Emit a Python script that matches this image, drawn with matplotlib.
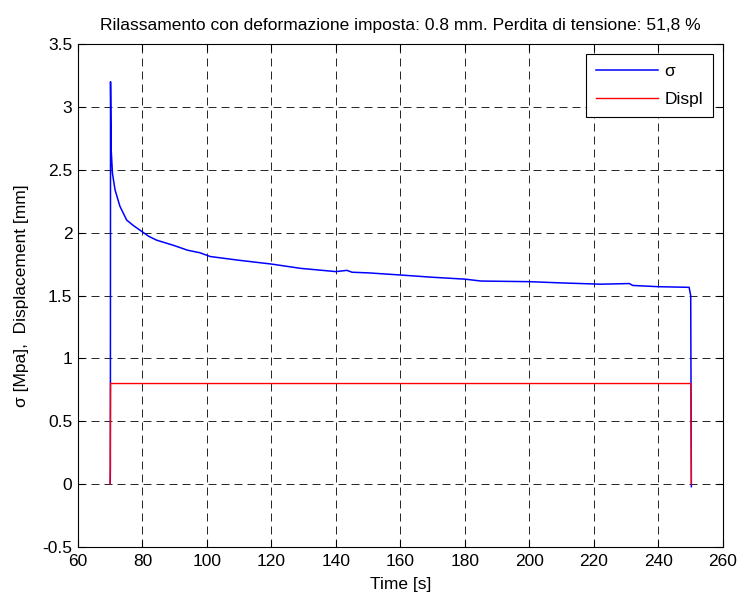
"""Relaxation test: stress and imposed displacement vs time."""

import matplotlib

matplotlib.use("Agg")
import matplotlib.pyplot as plt

# stress curve (time [s], sigma [MPa])
sigma_t = [70.0, 70.05, 70.1, 70.3, 70.7, 71.5, 73.0, 75.1, 77.0, 79.2, 82.0,
           84.4, 89.5, 94.0, 97.8, 101.0, 110.0, 120.0, 129.0, 140.0, 143.4,
           145.0, 150.0, 160.0, 170.0, 180.0, 185.0, 200.0, 210.0, 222.0,
           231.0, 232.0, 240.0, 249.5, 250.0, 250.2]
sigma_v = [0.0, 0.13, 3.2, 2.66, 2.47, 2.34, 2.21, 2.1, 2.06, 2.02, 1.97,
           1.94, 1.9, 1.86, 1.84, 1.81, 1.78, 1.75, 1.716, 1.69, 1.70,
           1.685, 1.68, 1.663, 1.645, 1.63, 1.615, 1.61, 1.60, 1.59,
           1.595, 1.58, 1.57, 1.565, 1.5, -0.02]

# imposed displacement [mm]
displ_t = [69.95, 70.0, 70.1, 250.0, 250.2]
displ_v = [0.0, 0.13, 0.8, 0.8, 0.0]

title = "Rilassamento con deformazione imposta: 0.8 mm. Perdita di tensione: 51,8 %"
FS = 12.5

plt.rcParams["font.family"] = ["Liberation Sans", "DejaVu Sans"]

fig = plt.figure(figsize=(7.39, 5.98), dpi=100)
ax = fig.add_axes([0.1055, 0.0853, 0.8728, 0.8411])

ax.plot(sigma_t, sigma_v, color="#0000ff", lw=1.1, label="σ")
ax.plot(displ_t, displ_v, color="#ff0000", lw=1.0, label="Displ")

ax.set_xlim(60, 260)
ax.set_ylim(-0.5, 3.5)
ax.set_xticks(range(60, 261, 20))
ax.set_yticks([-0.5, 0, 0.5, 1, 1.5, 2, 2.5, 3, 3.5])
ax.set_yticklabels(["-0.5", "0", "0.5", "1", "1.5", "2", "2.5", "3", "3.5"])
ax.tick_params(direction="in", top=True, right=True, labelsize=FS, length=5,
               pad=4)
ax.tick_params(axis="x", pad=5)
ax.grid(True, color="black", linestyle=(0, (9.6, 6)), lw=0.6)
for s in ax.spines.values():
    s.set_linewidth(0.8)

ax.set_xlabel("Time [s]", fontsize=FS, labelpad=6)
ax.set_ylabel("σ [Mpa],  Displacement [mm]", fontsize=FS, labelpad=10)
ax.set_title(title, fontsize=FS, pad=10)

leg = ax.legend(loc="upper right", fontsize=FS, fancybox=False,
                edgecolor="black", framealpha=1, handlelength=3.6,
                handletextpad=0.35, borderpad=0.55, labelspacing=0.75,
                borderaxespad=0.6)
leg.get_frame().set_linewidth(0.8)

fig.savefig("out.png", dpi=100)
